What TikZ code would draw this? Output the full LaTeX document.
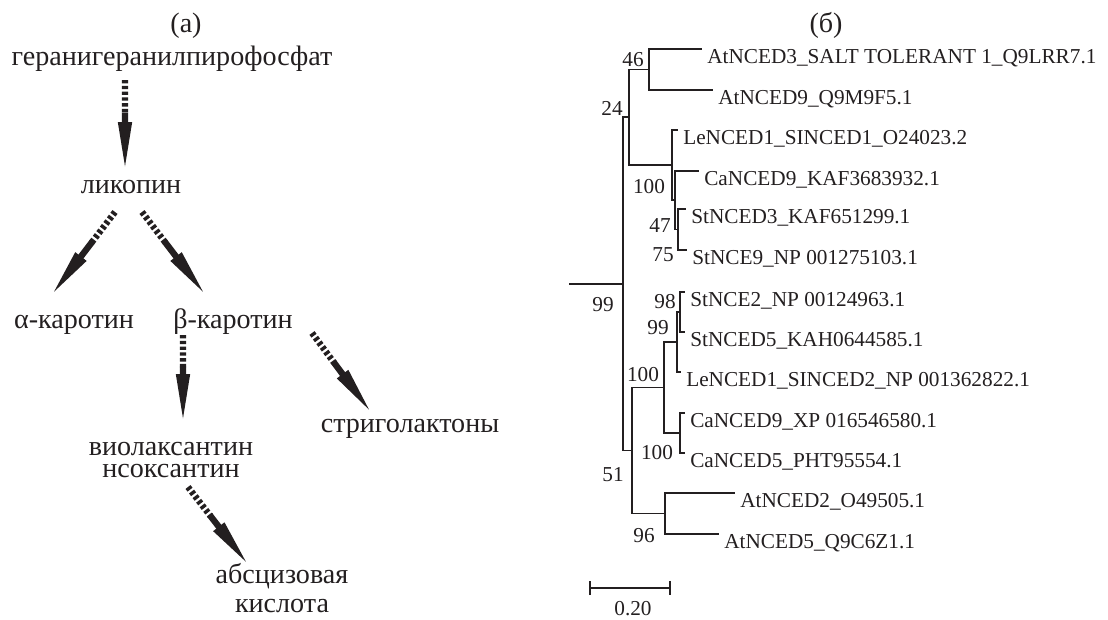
\documentclass[tikz,border=0pt]{standalone}
\usepackage{fontspec}
\setmainfont{Liberation Serif}
\usetikzlibrary{arrows.meta,calc}
\definecolor{ink}{HTML}{231F20}
\newcommand{\pathfont}{\fontsize{16pt}{19pt}\selectfont}
\newcommand{\treefont}{\fontsize{12.1pt}{14pt}\selectfont}
\tikzset{
  compound/.style={font=\pathfont, text=ink, inner sep=0pt, anchor=base},
  stripe/.style={line width=3.6pt, dash pattern=on 1.9pt off 1.4pt, color=ink},
  pathhead/.style={line width=3.6pt, color=ink, -{Triangle[length=29pt,width=7pt]}},
  leaf/.style={font=\treefont, text=ink, anchor=north west, inner xsep=2.8pt,
    inner ysep=0pt, text height=8pt, text depth=2.5pt},
  boot/.style={font=\treefont, text=ink, inner sep=0pt},
  branch/.style={line width=0.9pt, color=ink},
}

\begin{document}
\begin{tikzpicture}[x=0.02cm, y=-0.02cm]
  \useasboundingbox (0,0) rectangle (1108,619);

  % (а) pathway
  \node[compound] (pa) at (186,32) {(а)};
  \node[compound] (ggpp) at (172,65) {геранигеранилпирофосфат};
  \node[compound] (lyc) at (131,193) {ликопин};
  \node[compound] (acar) at (74,328) {α-каротин};
  \node[compound] (bcar) at (233,328) {β-каротин};
  \node[compound, anchor=center, align=center, font=\fontsize{16pt}{13pt}\selectfont] (viol) at (171,460) {виолаксантин\\нсоксантин};
  \node[compound] (strig) at (410,432) {стриголактоны};
  \node[compound, anchor=center, align=center, font=\fontsize{16pt}{17pt}\selectfont] (aba) at (282,588) {абсцизовая\\кислота};

  \coordinate (ggpp-o) at ($(ggpp.base)+(-47,15)$);
  \coordinate (lyc-i) at ($(lyc.base)+(-6,-20)$);
  \coordinate (lyc-oa) at ($(lyc.base)+(-16,19)$);
  \coordinate (lyc-ob) at ($(lyc.base)+(11,19)$);
  \coordinate (acar-i) at ($(acar.base)+(-24,-31)$);
  \coordinate (bcar-i) at ($(bcar.base)+(-26,-31)$);
  \coordinate (bcar-ov) at ($(bcar.base)+(-50,7)$);
  \coordinate (bcar-os) at ($(bcar.base)+(79,5)$);
  \coordinate (viol-i) at ($(viol.center)+(12,-35)$);
  \coordinate (viol-o) at ($(viol.center)+(17,27)$);
  \coordinate (strig-i) at ($(strig.base)+(-37,-17)$);
  \coordinate (aba-i) at ($(aba.center)+(-32,-21)$);

  \foreach \s/\e in {ggpp-o/lyc-i, lyc-oa/acar-i, lyc-ob/bcar-i, bcar-ov/viol-i, bcar-os/strig-i, viol-o/aba-i} {
    \draw[stripe] (\s) -- ($(\s)!0.36!(\e)$);
    \draw[pathhead] ($(\s)!0.35!(\e)$) -- (\e);
  }

  % (б) tree
  \node[compound] (pb) at (826,32) {(б)};
  \node[leaf] (at3) at (702,49) {AtNCED3\_SALT TOLERANT 1\_Q9LRR7.1};
  \node[leaf] (at9) at (713,90) {AtNCED9\_Q9M9F5.1};
  \node[leaf] (le1) at (678,130) {LeNCED1\_SINCED1\_O24023.2};
  \node[leaf] (ca9k) at (699,171) {CaNCED9\_KAF3683932.1};
  \node[leaf] (st3) at (686,209) {StNCED3\_KAF651299.1};
  \node[leaf] (st9) at (687,250) {StNCE9\_NP 001275103.1};
  \node[leaf] (st2) at (685,292) {StNCE2\_NP 00124963.1};
  \node[leaf] (st5) at (685,332) {StNCED5\_KAH0644585.1};
  \node[leaf] (le2) at (681,372) {LeNCED1\_SINCED2\_NP 001362822.1};
  \node[leaf] (ca9x) at (685,413) {CaNCED9\_XP 016546580.1};
  \node[leaf] (ca5) at (685,453) {CaNCED5\_PHT95554.1};
  \node[leaf] (at2) at (735,493) {AtNCED2\_O49505.1};
  \node[leaf] (at5) at (719,534) {AtNCED5\_Q9C6Z1.1};

  \coordinate (stem) at (569,284);
  \coordinate (root) at (623,284);
  \coordinate (n24) at (629,117.25);
  \coordinate (n46) at (649,69.5);
  \coordinate (n100a) at (672,165);
  \coordinate (nb) at (675,200.25);
  \coordinate (nc) at (678,229.5);
  \coordinate (n51) at (632,450.5);
  \coordinate (nf) at (664,387.5);
  \coordinate (ne) at (677,342);
  \coordinate (nd) at (680,312);
  \coordinate (ng) at (680,433);
  \coordinate (n96) at (665,513.5);

  \draw[branch] (stem) -- (root);
  \foreach \p/\c in {root/n24, root/n51, n24/n46, n24/n100a,
      n46/at3.north west, n46/at9.north west,
      n100a/le1.north west, n100a/nb, nb/ca9k.north west, nb/nc,
      nc/st3.north west, nc/st9.north west,
      n51/nf, n51/n96, nf/ne, nf/ng, ne/nd, ne/le2.north west,
      nd/st2.north west, nd/st5.north west,
      ng/ca9x.north west, ng/ca5.north west,
      n96/at2.north west, n96/at5.north west}
    \draw[branch] (\p) |- (\c);

  \node[boot] (b46) at (633,60) {46};
  \node[boot] (b24) at (612,108) {24};
  \node[boot] (b100a) at (649,187) {100};
  \node[boot] (b47) at (660,225) {47};
  \node[boot] (b75) at (663,255) {75};
  \node[boot] (b99r) at (603,305) {99};
  \node[boot] (b98) at (665,302) {98};
  \node[boot] (b99) at (658,328) {99};
  \node[boot] (b100b) at (643,375) {100};
  \node[boot] (b100c) at (657,453) {100};
  \node[boot] (b51) at (613,475) {51};
  \node[boot] (b96) at (644,536) {96};

  % scale bar
  \coordinate (sb0) at (589,588);
  \coordinate (sb1) at (671,588);
  \draw[branch, {Bar[width=8pt]}-{Bar[width=8pt]}] (sb0) -- (sb1);
  \node[boot] (sbl) at (633,609) {0.20};
\end{tikzpicture}
\end{document}
